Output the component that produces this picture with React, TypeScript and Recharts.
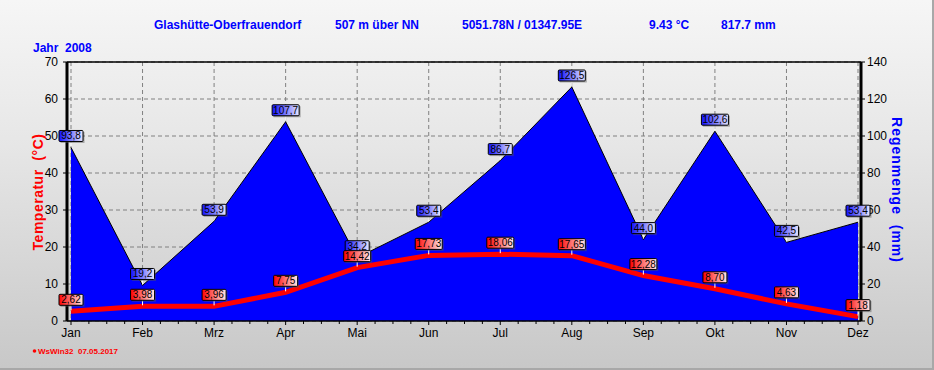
import React from 'react';
import { ComposedChart, Area, Line, XAxis, YAxis, CartesianGrid, LabelList, ReferenceLine } from 'recharts';

const months = ['Jan', 'Feb', 'Mrz', 'Apr', 'Mai', 'Jun', 'Jul', 'Aug', 'Sep', 'Okt', 'Nov', 'Dez'];
const temperature = [2.62, 3.98, 3.96, 7.75, 14.42, 17.73, 18.06, 17.65, 12.28, 8.7, 4.63, 1.18];
const rainfall = [93.8, 19.2, 53.9, 107.7, 34.2, 53.4, 86.7, 126.5, 44.0, 102.6, 42.5, 53.4];
const tempTicks = [0, 10, 20, 30, 40, 50, 60, 70];
const rainTicks = [0, 20, 40, 60, 80, 100, 120, 140];

const data = months.map((m, i) => ({ month: m, temp: temperature[i], rain: rainfall[i] }));

const FONT = 'Arial, "Liberation Sans", Helvetica, sans-serif';
const X_TICK_SIZE = 4;
const X_TICK_MARGIN = 3;
const PLOT_LEFT = 67;
const PLOT_RIGHT = 861;
const PAD_L = 4;
const PAD_R = 3;
const MONTH_STEP = (PLOT_RIGHT - PLOT_LEFT - PAD_L - PAD_R) / (months.length - 1);

const MonthTick = (props: any) => {
  const { x, y, payload, index } = props;
  const axisY = y - X_TICK_SIZE - X_TICK_MARGIN;
  const minors = [] as any[];
  if (index < months.length - 1) {
    for (let k = 1; k < 4; k++) {
      const mx = x + (MONTH_STEP * k) / 4;
      minors.push(<line key={k} x1={mx} y1={axisY} x2={mx} y2={axisY + 3} stroke="#000" strokeWidth={1} />);
    }
  }
  return (
    <g>
      {minors}
      <text x={x} y={y} dy="0.71em" textAnchor="middle" fontSize={12} fontFamily={FONT} fill="#000">
        {payload.value}
      </text>
    </g>
  );
};

const makeTag = (kind: 'red' | 'blue', decimals: number) => (props: any) => {
  const { x, y, value } = props;
  if (x == null || y == null || value == null) return null;
  const text = Number(value).toFixed(decimals).replace('.', ',');
  const w = Math.max(24, text.length * 5 + 2);
  const h = 11;
  const top = y - 6 - h;
  return (
    <g>
      <line x1={x} y1={top + h} x2={x} y2={y - 1} stroke="#ffffff" strokeWidth={1} />
      <rect x={x - w / 2 + 1.5} y={top + 1.5} width={w} height={h} fill="#555" opacity={0.45} />
      <rect x={x - w / 2} y={top} width={w} height={h} fill={`url(#tag-${kind})`} stroke="#000" strokeWidth={1} rx={1} />
      <text x={x} y={top + h - 2} textAnchor="middle" fontSize={10} fontFamily={FONT} fill="#000">
        {text}
      </text>
    </g>
  );
};

export default function App() {
  return (
    <div
      style={{
        position: 'absolute',
        left: 0,
        top: 0,
        width: 934,
        height: 370,
        background: 'linear-gradient(#f6f6f6 0%, #e6e6e6 40%, #c8c8c8 100%)',
        fontFamily: FONT,
        overflow: 'hidden',
        boxSizing: 'border-box',
        borderRight: '2px solid #a8a8a8',
        borderBottom: '2px solid #a8a8a8',
      }}
    >
      <svg width={0} height={0} style={{ position: 'absolute' }}>
        <defs>
          <linearGradient id="tag-red" x1="0" y1="0" x2="1" y2="0">
            <stop offset="0%" stopColor="#ff0000" />
            <stop offset="100%" stopColor="#ffe8e8" />
          </linearGradient>
          <linearGradient id="tag-blue" x1="0" y1="0" x2="1" y2="0">
            <stop offset="0%" stopColor="#1010ff" />
            <stop offset="100%" stopColor="#e8e8ff" />
          </linearGradient>
        </defs>
      </svg>
      <ComposedChart width={934} height={370} data={data} margin={{ top: 62, right: 0, bottom: 0, left: 0 }}>
        <CartesianGrid yAxisId="left" stroke="#808080" strokeDasharray="4 3" />
        <XAxis
          dataKey="month"
          height={49}
          padding={{ left: PAD_L, right: PAD_R }}
          tick={<MonthTick />}
          tickSize={X_TICK_SIZE}
          tickMargin={X_TICK_MARGIN}
          axisLine={{ stroke: '#000', strokeWidth: 1.5 }}
          tickLine={{ stroke: '#000' }}
          interval={0}
        />
        <YAxis
          yAxisId="left"
          orientation="left"
          width={PLOT_LEFT}
          domain={[0, 70]}
          ticks={tempTicks}
          tick={{ fill: '#000', fontSize: 12, fontFamily: FONT }}
          tickSize={4}
          tickMargin={5}
          axisLine={{ stroke: '#000', strokeWidth: 3 }}
          tickLine={{ stroke: '#000' }}
        />
        <YAxis
          yAxisId="right"
          orientation="right"
          width={934 - PLOT_RIGHT}
          domain={[0, 140]}
          ticks={rainTicks}
          tick={{ fill: '#000', fontSize: 12, fontFamily: FONT }}
          tickSize={4}
          tickMargin={2}
          axisLine={{ stroke: '#000', strokeWidth: 3 }}
          tickLine={{ stroke: '#000' }}
        />
        <ReferenceLine yAxisId="left" y={70} stroke="#000" strokeWidth={1.5} />
        <Area
          yAxisId="right"
          type="linear"
          dataKey="rain"
          fill="#0000ff"
          fillOpacity={1}
          stroke="#000"
          strokeWidth={1}
          isAnimationActive={false}
        >
          <LabelList dataKey="rain" content={makeTag('blue', 1)} />
        </Area>
        <Line
          yAxisId="left"
          type="linear"
          dataKey="temp"
          stroke="#ff0000"
          strokeWidth={5}
          dot={false}
          isAnimationActive={false}
        >
          <LabelList dataKey="temp" content={makeTag('red', 2)} />
        </Line>
      </ComposedChart>
      <svg
        width={934}
        height={370}
        style={{ position: 'absolute', left: 0, top: 0, pointerEvents: 'none' }}
        fontFamily={FONT}
      >
        <g fill="#0000ff" fontWeight="bold" fontSize={12}>
          <text x={154} y={29}>Glashütte-Oberfrauendorf</text>
          <text x={335} y={29}>507 m über NN</text>
          <text x={462} y={29}>5051.78N / 01347.95E</text>
          <text x={649} y={29}>9.43 °C</text>
          <text x={721} y={29}>817.7 mm</text>
          <text x={33} y={52} xmlSpace="preserve">Jahr  2008</text>
        </g>
        <text
          x={38}
          y={192}
          transform="rotate(-90 38 192)"
          textAnchor="middle"
          dominantBaseline="central"
          fill="#ff0000"
          fontWeight="bold"
          fontSize={14}
          letterSpacing={0.5}
          xmlSpace="preserve"
        >
          Temperatur  (°C)
        </text>
        <text
          x={897}
          y={190}
          transform="rotate(90 897 190)"
          textAnchor="middle"
          dominantBaseline="central"
          fill="#0000ff"
          fontWeight="bold"
          fontSize={14}
          letterSpacing={1}
          xmlSpace="preserve"
        >
          Regenmenge  (mm)
        </text>
        <circle cx={34.5} cy={351} r={1.8} fill="#ff0000" />
        <text x={38} y={354} fill="#ff0000" fontSize={8} fontWeight="bold" xmlSpace="preserve">
          WsWin32  07.05.2017
        </text>
      </svg>
    </div>
  );
}
